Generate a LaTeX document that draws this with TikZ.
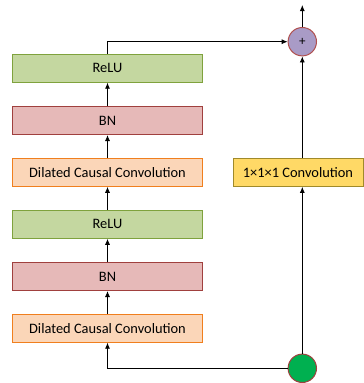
\documentclass[tikz,border=0pt]{standalone}
\usepackage{fontspec}
\setmainfont{Carlito}
\usetikzlibrary{arrows.meta}
\definecolor{reluFill}{HTML}{C4D7A0}
\definecolor{reluLine}{HTML}{7FA23D}
\definecolor{bnFill}{HTML}{E6B9B8}
\definecolor{bnLine}{HTML}{A0403E}
\definecolor{dccFill}{HTML}{FBD6B8}
\definecolor{dccLine}{HTML}{F07F1E}
\definecolor{convFill}{HTML}{FFD966}
\definecolor{convLine}{HTML}{A08A2A}
\definecolor{sumFill}{HTML}{A99BC6}
\definecolor{sumLine}{HTML}{B0504E}
\definecolor{inFill}{HTML}{00B050}
\definecolor{inLine}{HTML}{A0403E}
\tikzset{
  layer/.style={draw, line width=1pt, minimum width=190pt, minimum height=28pt,
    inner sep=0pt, font=\fontsize{14.4}{16}\selectfont},
  relubox/.style={layer, fill=reluFill, draw=reluLine},
  bnbox/.style={layer, fill=bnFill, draw=bnLine},
  dccbox/.style={layer, fill=dccFill, draw=dccLine},
  convbox/.style={layer, fill=convFill, draw=convLine, minimum width=130pt},
  junction/.style={circle, draw, line width=1pt, minimum size=28.4pt, inner sep=0pt},
  flow/.style={-{Latex[length=6pt,width=5pt]}, line width=0.8pt},
}
\begin{document}
\begin{tikzpicture}[x=1pt,y=-1pt]
  \useasboundingbox (0,0) rectangle (364,383);
  % left branch: two dilated causal convolution blocks
  \node[relubox] (relu2) at (107.5,68.2) {ReLU};
  \node[bnbox]   (bn2)   at (107.5,120.5) {BN};
  \node[dccbox]  (dcc2)  at (107.5,172.3) {Dilated Causal Convolution};
  \node[relubox] (relu1) at (107.5,224.3) {ReLU};
  \node[bnbox]   (bn1)   at (107.5,276.5) {BN};
  \node[dccbox]  (dcc1)  at (107.5,328.2) {Dilated Causal Convolution};
  % right branch: residual path
  \node[convbox] (conv) at (298,172.3) {1×1×1 Convolution};
  \node[junction, fill=sumFill, draw=sumLine, font=\fontsize{13}{14}\selectfont] (sum) at (302.3,41.7) {+};
  \node[junction, fill=inFill, draw=inLine] (in) at (302.3,368.3) {};
  \coordinate (out) at (302.3,5);
  % connectors
  \draw[flow] (in.west) -| (dcc1.south);
  \draw[flow] (dcc1) -- (bn1);
  \draw[flow] (bn1) -- (relu1);
  \draw[flow] (relu1) -- (dcc2);
  \draw[flow] (dcc2) -- (bn2);
  \draw[flow] (bn2) -- (relu2);
  \draw[flow] (relu2.north) |- (sum.west);
  \draw[flow] (in.north) -- (conv.south -| in.north);
  \draw[flow] (conv.north -| in.north) -- (sum.south);
  \draw[flow] (sum.north) -- (out);
\end{tikzpicture}
\end{document}
